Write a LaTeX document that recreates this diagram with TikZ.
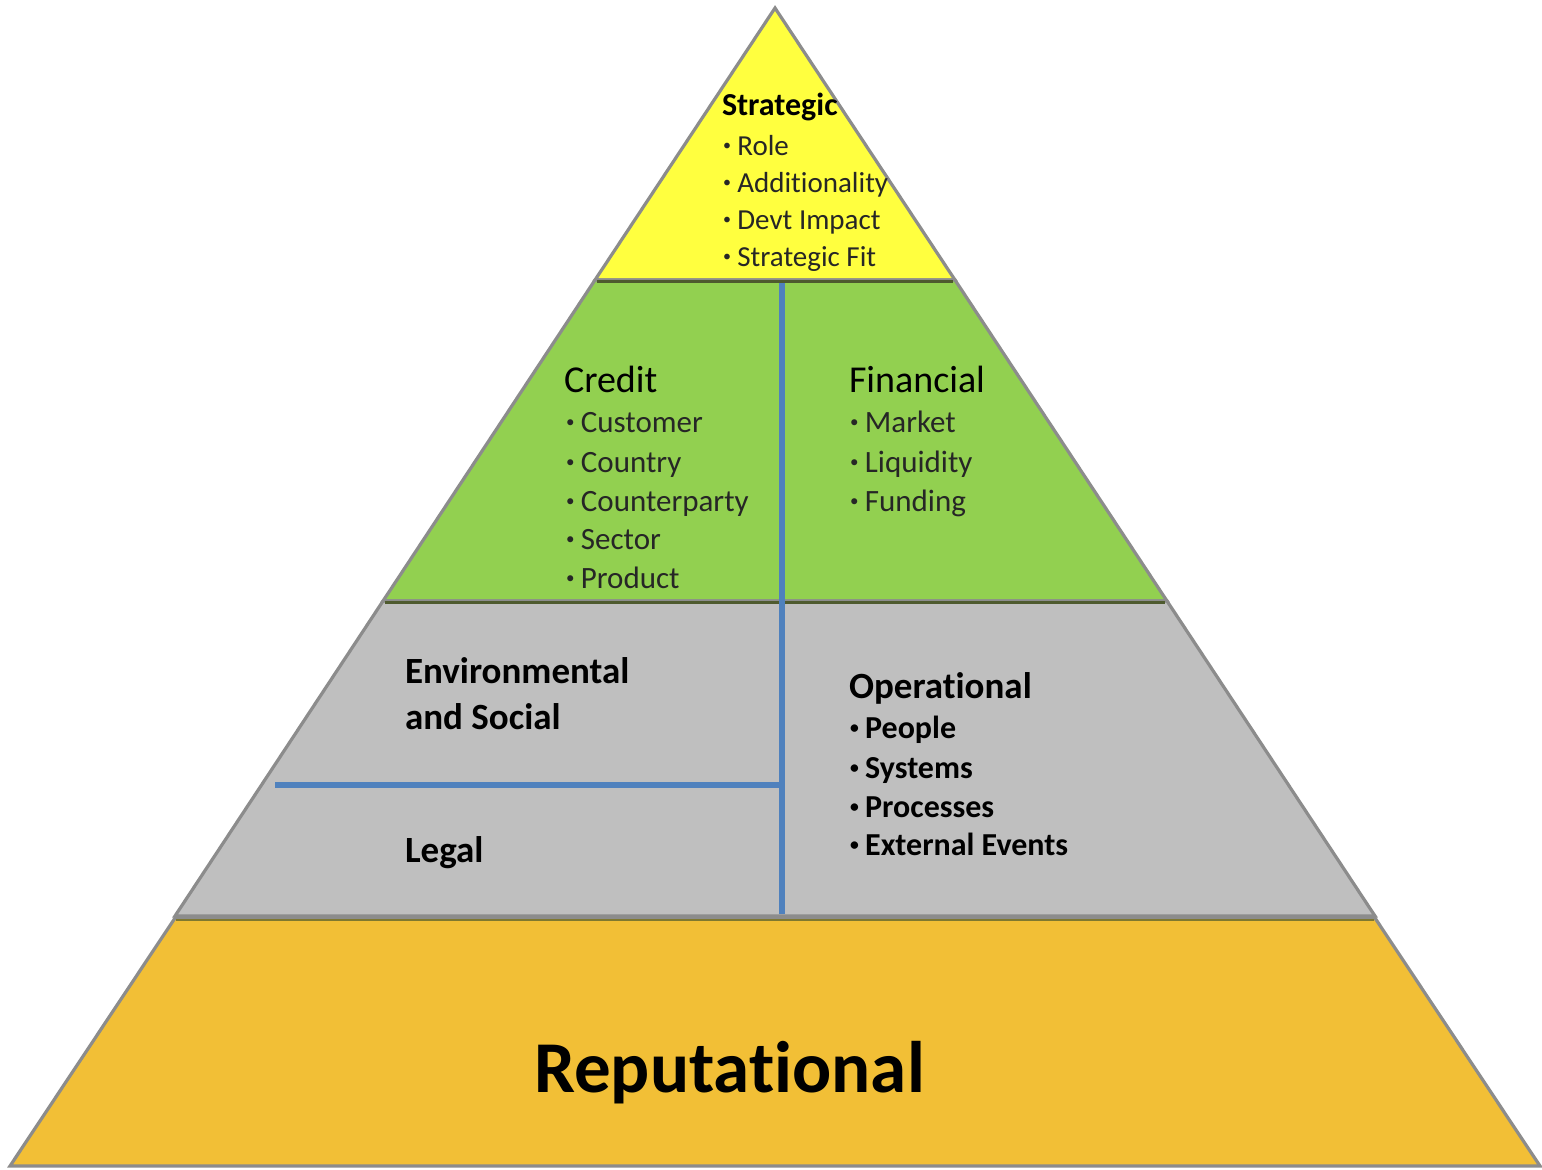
\documentclass[tikz,border=0pt]{standalone}
\usepackage{fontspec}
\setmainfont{Carlito}[Ligatures={NoCommon}]
\definecolor{topyellow}{HTML}{FFFF3F}
\definecolor{midgreen}{HTML}{92D050}
\definecolor{lowgray}{HTML}{BFBFBF}
\definecolor{basegold}{HTML}{F2BF36}
\definecolor{divblue}{HTML}{4F81BD}
\definecolor{rimgray}{HTML}{8C8C8C}
\definecolor{seamdark}{HTML}{4E5A2E}
\definecolor{itemtext}{HTML}{262626}
\tikzset{
  band/.style={draw=rimgray, line width=1.6pt, line join=miter},
  seam/.style={draw=seamdark, line width=1.2pt},
  divider/.style={draw=divblue, line width=2.6pt},
  label/.style={anchor=base west, inner sep=0pt, outer sep=0pt},
  ytitle/.style={label, font=\fontsize{16}{18}\selectfont\bfseries},
  yitem/.style={label, text=itemtext, font=\fontsize{14.5}{17}\selectfont},
  gtitle/.style={label, font=\fontsize{19}{22}\selectfont},
  gitem/.style={label, text=itemtext, font=\fontsize{15.5}{18}\selectfont},
  ctitle/.style={label, align=left, font=\fontsize{18.5}{23}\selectfont\bfseries},
  citem/.style={label, font=\fontsize{16}{19}\selectfont\bfseries},
}
\newcommand{\bul}[1]{\raisebox{0.14em}{\scalebox{0.55}{\textbullet}}\hspace{3.2pt}#1}
\begin{document}
\begin{tikzpicture}[x=0.5pt, y=-0.5pt]
  \useasboundingbox (0,0) rectangle (1542,1169);
  \fill[white] (0,0) rectangle (1542,1169);

  % pyramid bands, top to bottom
  \filldraw[band, fill=topyellow] (775,8) -- (955,280) -- (595,280) -- cycle;
  \filldraw[band, fill=midgreen] (595,280) -- (955,280) -- (1167,601) -- (383,601) -- cycle;
  \filldraw[band, fill=lowgray] (383,601) -- (1167,601) -- (1375,916) -- (175,916) -- cycle;
  \filldraw[band, fill=basegold] (175,918) -- (1375,918) -- (1540,1166) -- (10,1166) -- cycle;

  % seams between bands
  \draw[seam] (597,281.5) -- (953,281.5);
  \draw[seam] (385,602.5) -- (1165,602.5);
  \draw[draw=seamdark!70!basegold, line width=1pt] (176,919.5) -- (1374,919.5);

  % blue dividers
  \coordinate (vtop) at (782,283);
  \coordinate (vbot) at (782,914);
  \coordinate (hleft) at (275,785);
  \coordinate (hright) at (782,785);
  \draw[divider] (vtop) -- (vbot);
  \draw[divider] (hleft) -- (hright);

  % strategic
  \node[ytitle] (strat) at (722,115) {Strategic};
  \node[yitem] (s1) at (723,155) {\bul{Role}};
  \node[yitem] (s2) at (723,192) {\bul{Additionality}};
  \node[yitem] (s3) at (723,229) {\bul{Devt Impact}};
  \node[yitem] (s4) at (723,266) {\bul{Strategic Fit}};

  % credit
  \node[gtitle] (credit) at (564,392) {Credit};
  \node[gitem] (c1) at (566,432) {\bul{Customer}};
  \node[gitem] (c2) at (566,472) {\bul{Country}};
  \node[gitem] (c3) at (566,511) {\bul{Counterparty}};
  \node[gitem] (c4) at (566,549) {\bul{Sector}};
  \node[gitem] (c5) at (566,588) {\bul{Product}};

  % financial
  \node[gtitle] (fin) at (849,392) {Financial};
  \node[gitem] (f1) at (850,432) {\bul{Market}};
  \node[gitem] (f2) at (850,472) {\bul{Liquidity}};
  \node[gitem] (f3) at (850,511) {\bul{Funding}};

  % environmental and social, legal
  \node[ctitle] (env) at (405,729) {Environmental\\and Social};
  \node[ctitle] (legal) at (405,862) {Legal};

  % operational
  \node[ctitle] (oper) at (849,698) {Operational};
  \node[citem] (o1) at (850,738) {\bul{People}};
  \node[citem] (o2) at (850,778) {\bul{Systems}};
  \node[citem] (o3) at (850,817) {\bul{Processes}};
  \node[citem] (o4) at (850,855) {\bul{External Events}};

  % reputational
  \node[label, font=\fontsize{36.5}{40}\selectfont\bfseries] (rep) at (534,1092) {Reputational};
\end{tikzpicture}
\end{document}
